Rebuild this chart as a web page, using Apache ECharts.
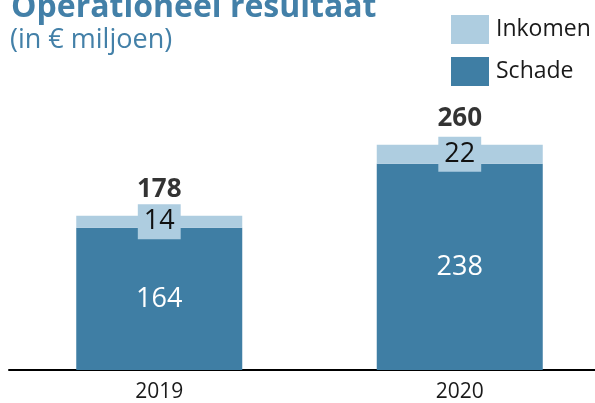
<!DOCTYPE html>
<html>
<head>
<meta charset="utf-8">
<script src="https://cdn.jsdelivr.net/npm/echarts@6/dist/echarts.min.js"></script>
<style>
  html, body { margin: 0; padding: 0; background: #fff; }
  #chart { width: 595px; height: 403px; }
</style>
</head>
<body>
<div id="chart"></div>
<script>
  // data
  var years = ['2019', '2020'];
  var schade = [164, 238];
  var inkomen = [14, 22];
  var totals = [178, 260];

  var dark = '#3f7ea4';
  var light = '#aecde0';
  var font = '"Open Sans", sans-serif';

  var myChart = echarts.init(document.getElementById('chart'));

  var option = {
    animation: false,
    textStyle: { fontFamily: font },
    title: [
      {
        text: 'Operationeel resultaat',
        left: 6,
        top: -13,
        textStyle: { fontFamily: font, fontSize: 32, fontWeight: 'bold', color: '#4380a8' }
      },
      {
        text: '(in € miljoen)',
        left: 5,
        top: 22,
        textStyle: { fontFamily: font, fontSize: 27, fontWeight: 'normal', color: '#4380a8' }
      }
    ],
    legend: {
      data: ['Inkomen', 'Schade'],
      orient: 'vertical',
      left: 446,
      top: 10,
      itemWidth: 38,
      itemHeight: 29,
      itemGap: 13,
      icon: 'rect',
      textStyle: { fontFamily: font, fontSize: 23, color: '#1a1a1a', padding: [0, 0, 0, 2] }
    },
    // grid runs past the right edge so the two categories sit where they do in the original
    grid: {
      left: 9,
      width: 601,
      top: 110,
      bottom: 33,
      outerBoundsMode: 'none',
      containLabel: false
    },
    xAxis: {
      type: 'category',
      data: years,
      axisTick: { show: false },
      axisLine: { lineStyle: { color: '#000', width: 2 } },
      axisLabel: { fontFamily: font, fontSize: 21, color: '#1a1a1a', margin: 12 }
    },
    yAxis: {
      type: 'value',
      min: 0,
      max: 300,
      show: false,
      splitLine: { show: false }
    },
    series: [
      {
        name: 'Schade',
        type: 'bar',
        stack: 'total',
        barWidth: 166,
        data: schade,
        itemStyle: { color: dark },
        label: {
          show: true,
          position: 'inside',
          color: '#fff',
          fontFamily: font,
          fontSize: 27
        }
      },
      {
        name: 'Inkomen',
        type: 'bar',
        stack: 'total',
        barWidth: 166,
        data: inkomen,
        itemStyle: { color: light },
        label: {
          show: true,
          position: 'inside',
          color: '#111',
          fontFamily: font,
          fontSize: 27,
          backgroundColor: light,
          padding: [4, 6, 4, 6]
        }
      },
      {
        name: 'Totaal',
        type: 'scatter',
        data: totals,
        symbolSize: 0,
        silent: true,
        label: {
          show: true,
          position: 'top',
          distance: 13,
          color: '#000',
          fontFamily: font,
          fontWeight: 'bold',
          fontSize: 26
        }
      }
    ]
  };

  myChart.setOption(option);
</script>
</body>
</html>
